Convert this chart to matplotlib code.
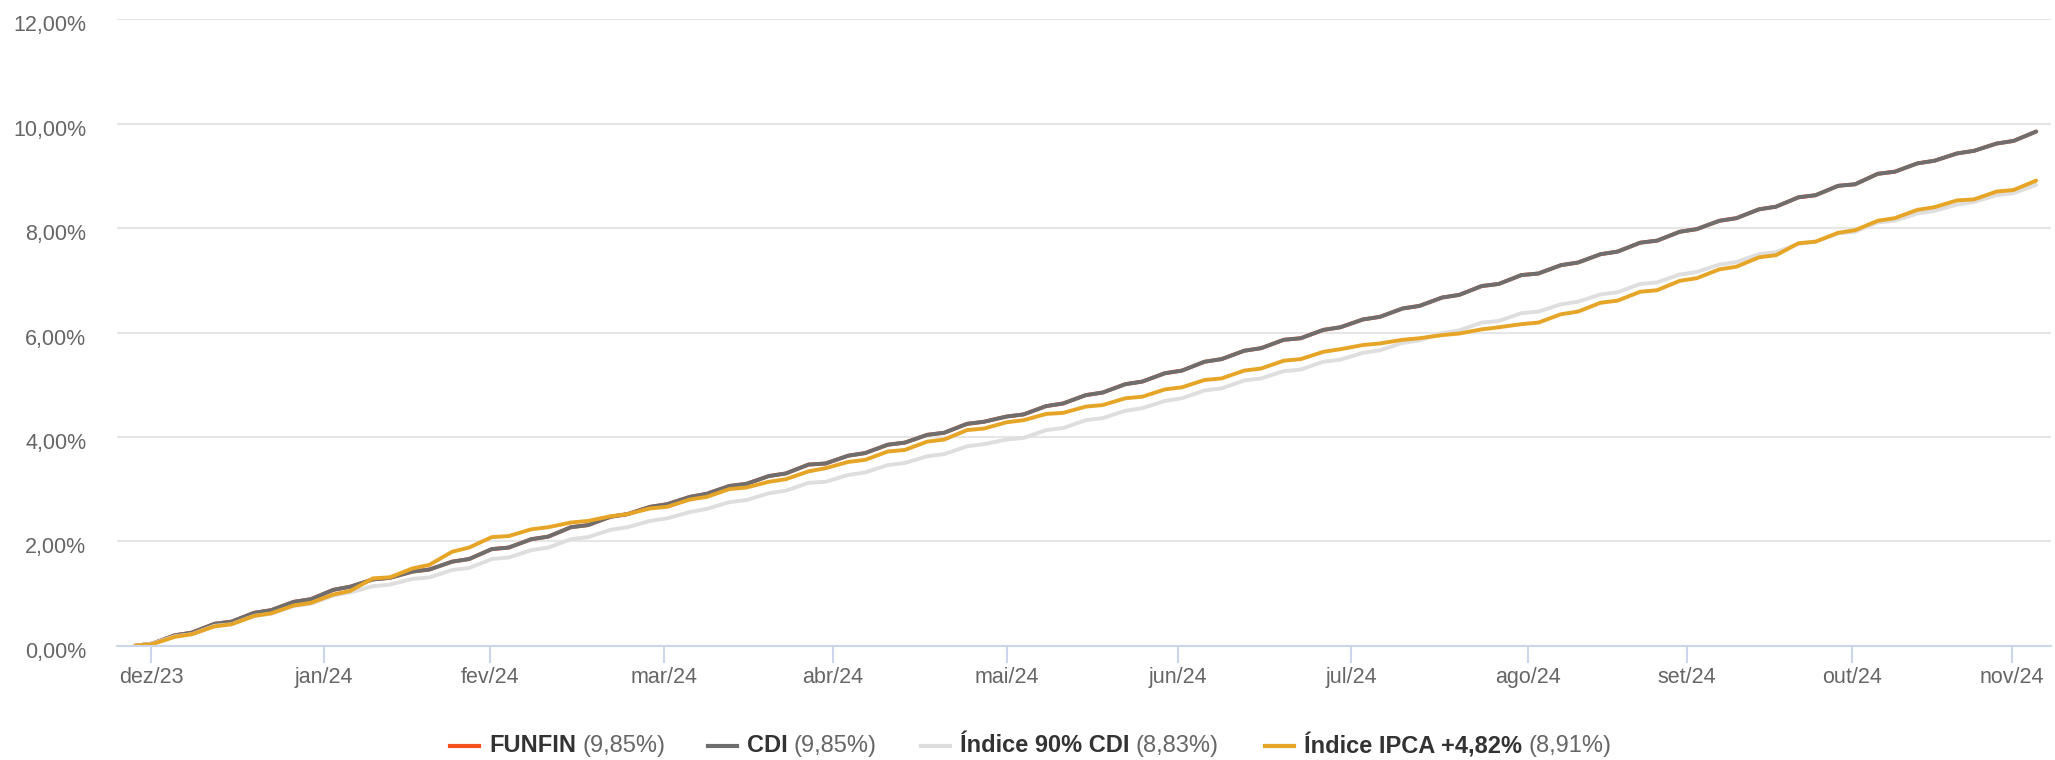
import matplotlib
matplotlib.use("Agg")
import matplotlib.pyplot as plt
import matplotlib.transforms as mtransforms
from matplotlib.lines import Line2D
from matplotlib.ticker import FuncFormatter

plt.rcParams['font.family'] = ['Liberation Sans', 'DejaVu Sans']

# Eixo x: dias corridos a partir do primeiro ponto (sexta), depois pares segunda/sexta
semanas = list(range(-1, 47))
dias = [0] + [d for k in semanas for d in (10 + 7 * k, 14 + 7 * k)]

# Rentabilidade acumulada (%), um valor por vértice (segunda, sexta)
cdi = [0.00,
       0.04, 0.20, 0.25, 0.42, 0.46, 0.63, 0.68, 0.84, 0.89, 1.07,
       1.13, 1.27, 1.30, 1.42, 1.46, 1.61, 1.66, 1.85, 1.88, 2.04,
       2.09, 2.27, 2.31, 2.47, 2.52, 2.66, 2.71, 2.85, 2.91, 3.06,
       3.10, 3.25, 3.30, 3.47, 3.49, 3.64, 3.69, 3.85, 3.89, 4.04,
       4.08, 4.25, 4.29, 4.39, 4.43, 4.59, 4.64, 4.80, 4.85, 5.01,
       5.06, 5.22, 5.27, 5.44, 5.49, 5.65, 5.70, 5.86, 5.89, 6.05,
       6.10, 6.25, 6.30, 6.46, 6.51, 6.67, 6.72, 6.89, 6.93, 7.10,
       7.13, 7.29, 7.34, 7.50, 7.55, 7.72, 7.76, 7.93, 7.98, 8.14,
       8.19, 8.36, 8.41, 8.59, 8.63, 8.81, 8.84, 9.04, 9.08, 9.24,
       9.29, 9.43, 9.48, 9.62, 9.67, 9.85]

funfin = [0.00,
          0.04, 0.20, 0.25, 0.42, 0.46, 0.63, 0.68, 0.84, 0.89, 1.07,
          1.13, 1.27, 1.30, 1.42, 1.46, 1.61, 1.66, 1.85, 1.88, 2.04,
          2.09, 2.27, 2.31, 2.47, 2.52, 2.66, 2.71, 2.85, 2.91, 3.06,
          3.10, 3.25, 3.30, 3.47, 3.49, 3.64, 3.69, 3.85, 3.89, 4.04,
          4.08, 4.25, 4.29, 4.39, 4.43, 4.59, 4.64, 4.80, 4.85, 5.01,
          5.06, 5.22, 5.27, 5.44, 5.49, 5.65, 5.70, 5.86, 5.89, 6.05,
          6.10, 6.25, 6.30, 6.46, 6.51, 6.67, 6.72, 6.89, 6.93, 7.10,
          7.13, 7.29, 7.34, 7.50, 7.55, 7.72, 7.76, 7.93, 7.98, 8.14,
          8.19, 8.36, 8.41, 8.59, 8.63, 8.81, 8.84, 9.04, 9.08, 9.24,
          9.29, 9.43, 9.48, 9.62, 9.67, 9.85]

cdi90 = [0.00,
         0.04, 0.18, 0.22, 0.38, 0.41, 0.57, 0.61, 0.76, 0.80, 0.96,
         1.02, 1.14, 1.17, 1.28, 1.31, 1.45, 1.49, 1.66, 1.69, 1.83,
         1.88, 2.04, 2.08, 2.22, 2.27, 2.39, 2.44, 2.56, 2.62, 2.75,
         2.79, 2.92, 2.97, 3.12, 3.14, 3.27, 3.32, 3.46, 3.50, 3.63,
         3.67, 3.82, 3.86, 3.95, 3.98, 4.13, 4.17, 4.32, 4.36, 4.50,
         4.55, 4.69, 4.74, 4.89, 4.93, 5.08, 5.12, 5.26, 5.29, 5.44,
         5.48, 5.61, 5.66, 5.80, 5.85, 5.99, 6.04, 6.19, 6.22, 6.37,
         6.40, 6.54, 6.59, 6.73, 6.77, 6.93, 6.96, 7.11, 7.16, 7.30,
         7.35, 7.50, 7.54, 7.70, 7.74, 7.90, 7.93, 8.11, 8.14, 8.28,
         8.33, 8.45, 8.50, 8.63, 8.67, 8.83]

ipca = [0.00,
        0.03, 0.17, 0.22, 0.37, 0.41, 0.57, 0.62, 0.77, 0.82, 0.98,
        1.05, 1.29, 1.31, 1.48, 1.55, 1.80, 1.88, 2.08, 2.10, 2.23,
        2.27, 2.36, 2.39, 2.48, 2.52, 2.63, 2.66, 2.80, 2.85, 3.00,
        3.03, 3.14, 3.19, 3.34, 3.40, 3.52, 3.56, 3.72, 3.75, 3.91,
        3.95, 4.13, 4.16, 4.28, 4.32, 4.44, 4.46, 4.58, 4.61, 4.74,
        4.77, 4.91, 4.95, 5.09, 5.12, 5.27, 5.31, 5.46, 5.49, 5.63,
        5.68, 5.76, 5.79, 5.86, 5.89, 5.95, 5.98, 6.06, 6.10, 6.16,
        6.19, 6.35, 6.40, 6.57, 6.61, 6.78, 6.81, 6.99, 7.04, 7.21,
        7.26, 7.44, 7.48, 7.71, 7.74, 7.91, 7.96, 8.14, 8.19, 8.35,
        8.40, 8.53, 8.55, 8.70, 8.73, 8.91]

meses = ['dez/23', 'jan/24', 'fev/24', 'mar/24', 'abr/24', 'mai/24',
         'jun/24', 'jul/24', 'ago/24', 'set/24', 'out/24', 'nov/24']
pos_meses = [2.8, 33.4, 62.7, 93.4, 123.3, 154.1, 184.3, 214.9, 246.1, 274.3, 303.5, 331.7]

series = [
    ('FUNFIN', '(9,85%)', funfin, '#f4511e'),
    ('CDI', '(9,85%)', cdi, '#6e6e6e'),
    ('Índice 90% CDI', '(8,83%)', cdi90, '#dedede'),
    ('Índice IPCA +4,82%', '(8,91%)', ipca, '#e6a526'),
]

fig = plt.figure(figsize=(20.55, 7.6), dpi=100)
ax = fig.add_axes([0.0569, 0.1504, 0.9411, 0.8242])

for nome, valor, ys, cor in series:
    ax.plot(dias, ys, color=cor, linewidth=2.8, solid_joinstyle='round', solid_capstyle='round')

ax.set_xlim(-3.25, 338.6)
ax.set_ylim(0, 12)
ax.set_yticks(range(0, 13, 2))
ax.yaxis.set_major_formatter(FuncFormatter(lambda v, p: f'{v:.2f}%'.replace('.', ',')))
ax.set_xticks(pos_meses)
ax.set_xticklabels(meses)

for s in ['top', 'right', 'left']:
    ax.spines[s].set_visible(False)
ax.spines['bottom'].set_color('#ccd6eb')
ax.spines['bottom'].set_linewidth(1.5)

ax.grid(axis='y', color='#e6e6e6', linewidth=1.5)
ax.set_axisbelow(True)
ax.tick_params(axis='y', length=0, pad=22, labelsize=15.5, labelcolor='#666666')
ax.tick_params(axis='x', length=12, width=1.5, color='#ccd6eb', pad=3, labelsize=15.5, labelcolor='#666666')

# rótulos do eixo y um pouco abaixo da linha de grade
desloc = mtransforms.ScaledTranslation(0, -4 / 100, fig.dpi_scale_trans)
for lbl in ax.get_yticklabels():
    lbl.set_transform(lbl.get_transform() + desloc)

# legenda manual: nome em negrito + valor em cinza
fig.canvas.draw()
renderer = fig.canvas.get_renderer()
leg_x = [450, 708, 921, 1265]
leg_y = 1 - 746 / 760
W = 2055
for (nome, valor, ys, cor), x0 in zip(series, leg_x):
    fig.add_artist(Line2D([x0 / W, (x0 + 29) / W], [leg_y, leg_y], color=cor,
                          linewidth=3, transform=fig.transFigure))
    t = fig.text((x0 + 39) / W, leg_y, nome, fontsize=17, fontweight='bold',
                 color='#333333', va='center', ha='left')
    bb = t.get_window_extent(renderer)
    fig.text((bb.x1 + 6) / W, leg_y, valor, fontsize=17, color='#666666',
             va='center', ha='left')

fig.savefig('out.png', dpi=100)
